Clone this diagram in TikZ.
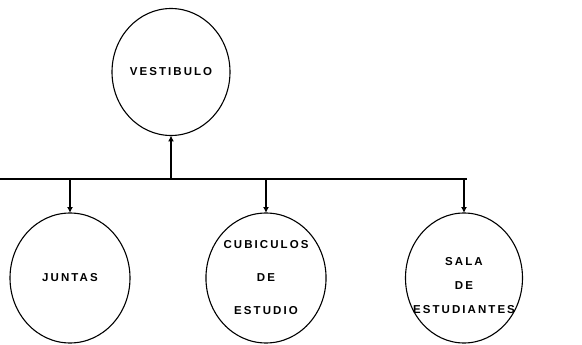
\documentclass[tikz,border=0pt]{standalone}
\usepackage{fontspec}
\newfontfamily\roomfont{Liberation Sans}[LetterSpace=18]
\usetikzlibrary{shapes.geometric,arrows.meta}
\begin{document}
\begin{tikzpicture}[x=1pt,y=-1pt,inner sep=0pt,outer sep=0pt,line width=1.4pt,>={Latex[length=6pt,width=6pt]},
room/.style={draw,ellipse,minimum width=120pt,minimum height=130pt,line width=1.1pt,align=center,
font=\roomfont\bfseries\fontsize{11.5}{24}\selectfont}]
\useasboundingbox (0,0) rectangle (582,345);
\draw (171,72) node[room,minimum width=118pt,minimum height=127pt] (vest) {VESTIBULO};
\draw (70,278) node[room] (juntas) {JUNTAS};
\draw (266,278) node[room,font=\roomfont\bfseries\fontsize{11.5}{33}\selectfont] (cub) {CUBICULOS\\DE\\ESTUDIO};
\draw (464,278) node[room,minimum width=117pt] (sala) {\rule{0pt}{24pt}SALA\\DE\\\makebox[0pt]{ESTUDIANTES}};
\coordinate (bus) at (0,179);
\coordinate (busend) at (467,179);
\draw (bus) -- (busend);
\draw[->] (vest.south |- bus) -- (vest.south);
\draw[->] (juntas.north |- bus) -- (juntas.north);
\draw[->] (cub.north |- bus) -- (cub.north);
\draw[->] (sala.north |- bus) -- (sala.north);
\end{tikzpicture}
\end{document}
